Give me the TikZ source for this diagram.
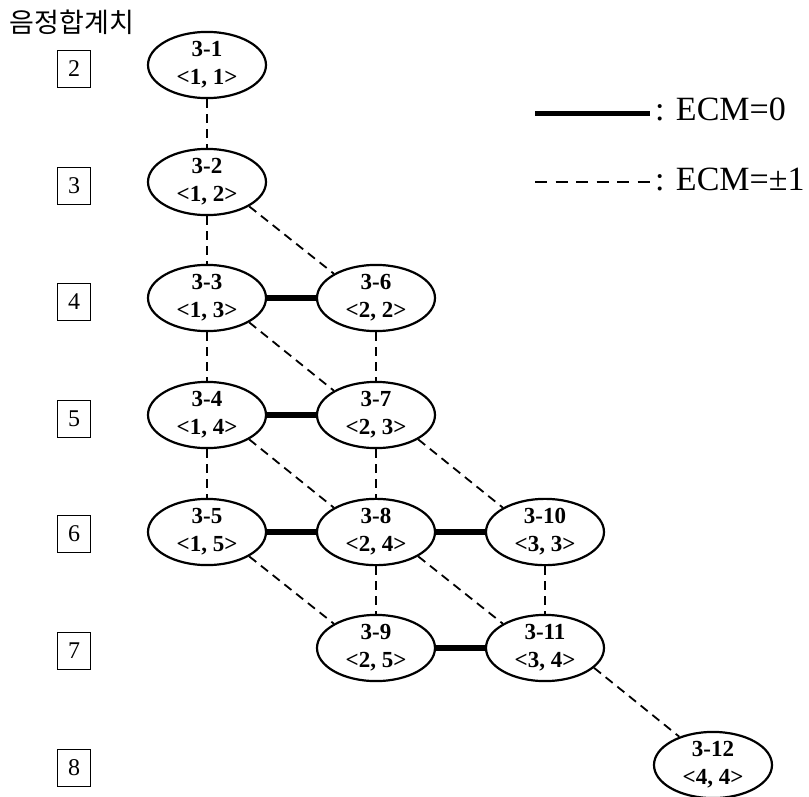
\documentclass[tikz,border=0pt]{standalone}
\usepackage{fontspec}
\setmainfont{Liberation Serif}
\newfontfamily\krfont{Noto Sans CJK KR}
\usetikzlibrary{shapes.geometric}
\begin{document}
\begin{tikzpicture}[x=1pt,y=-1pt,
  st/.style={ellipse,draw,line width=2.2pt,minimum width=118pt,minimum height=62pt,inner sep=0pt,align=center,font=\bfseries\fontsize{23}{28}\selectfont},
  lvl/.style={draw,line width=1.6pt,minimum width=33pt,minimum height=37pt,inner sep=0pt,font=\fontsize{24}{24}\selectfont},
  dsh/.style={line width=1.8pt,dash pattern=on 9pt off 6pt},
  sld/.style={line width=5.5pt},
  leg/.style={anchor=base west,inner sep=0pt,font=\fontsize{34}{34}\selectfont}]
\useasboundingbox (0,0) rectangle (809,796);

\node[inner sep=0pt,font=\krfont\fontsize{27}{27}\selectfont] (title) at (72,22) {음정합계치};

\node[lvl] (r2) at (74,69) {2};
\node[lvl] (r3) at (74,186) {3};
\node[lvl] (r4) at (74,302) {4};
\node[lvl] (r5) at (74,419) {5};
\node[lvl] (r6) at (74,534) {6};
\node[lvl] (r7) at (74,651) {7};
\node[lvl] (r8) at (74,768) {8};

\node[st] (n1) at (207,65) {3-1\\<1, 1>};
\node[st] (n2) at (207,182) {3-2\\<1, 2>};
\node[st] (n3) at (207,298) {3-3\\<1, 3>};
\node[st] (n4) at (207,415) {3-4\\<1, 4>};
\node[st] (n5) at (207,532) {3-5\\<1, 5>};
\node[st] (n6) at (376,298) {3-6\\<2, 2>};
\node[st] (n7) at (376,415) {3-7\\<2, 3>};
\node[st] (n8) at (376,532) {3-8\\<2, 4>};
\node[st] (n9) at (376,648) {3-9\\<2, 5>};
\node[st] (n10) at (545,532) {3-10\\<3, 3>};
\node[st] (n11) at (545,648) {3-11\\<3, 4>};
\node[st] (n12) at (713,765) {3-12\\<4, 4>};

% vertical dashed
\draw[dsh] (n1.south) -- (n2.north);
\draw[dsh] (n2.south) -- (n3.north);
\draw[dsh] (n3.south) -- (n4.north);
\draw[dsh] (n4.south) -- (n5.north);
\draw[dsh] (n6.south) -- (n7.north);
\draw[dsh] (n7.south) -- (n8.north);
\draw[dsh] (n8.south) -- (n9.north);
\draw[dsh] (n10.south) -- (n11.north);
% diagonal dashed
\draw[dsh] (n2.-30) -- (n6.150);
\draw[dsh] (n3.-30) -- (n7.150);
\draw[dsh] (n4.-30) -- (n8.150);
\draw[dsh] (n5.-30) -- (n9.150);
\draw[dsh] (n7.-30) -- (n10.150);
\draw[dsh] (n8.-30) -- (n11.150);
\draw[dsh] (n11.-22) -- (n12.140);
% solid
\draw[sld] (n3.east) -- (n6.west);
\draw[sld] (n4.east) -- (n7.west);
\draw[sld] (n5.east) -- (n8.west);
\draw[sld] (n8.east) -- (n10.west);
\draw[sld] (n9.east) -- (n11.west);

% legend
\coordinate (la) at (535,113);
\coordinate (lb) at (650,113);
\draw[line width=5pt] (la) -- (lb);
\node[leg] (lt1) at (655,120) {: ECM=0};
\coordinate (lc) at (535,182);
\coordinate (ld) at (650,182);
\draw[line width=1.8pt,dash pattern=on 12pt off 8.5pt] (lc) -- (ld);
\node[leg] (lt2) at (655,190) {: ECM=±1};
\end{tikzpicture}
\end{document}
